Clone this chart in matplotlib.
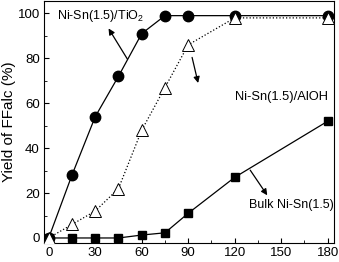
import matplotlib
matplotlib.use("Agg")
import matplotlib.pyplot as plt

plt.rcParams['font.family'] = ['Liberation Sans', 'DejaVu Sans']
plt.rcParams['mathtext.fontset'] = 'custom'
plt.rcParams['mathtext.rm'] = 'Liberation Sans'

# reaction time (min)
time_min = [0, 15, 30, 45, 60, 75, 90, 120, 180]
# yield of FFalc (%)
yield_tio2 = [0, 28, 54, 72, 91, 99, 99, 99, 99]
yield_aloh = [0, 6, 12, 22, 48, 67, 86, 98, 98]
yield_bulk = [0, 0, 0, 0, 1.3, 2.3, 11, 27, 52]

x_ticks = [0, 30, 60, 90, 120, 150, 180]
y_ticks = [0, 20, 40, 60, 80, 100]

fig = plt.figure(figsize=(3.39, 2.62), dpi=100)
ax = fig.add_axes([0.130, 0.072, 0.855, 0.924])

ax.plot(time_min, yield_bulk, '-', color='black', lw=0.9,
        marker='s', ms=6.3, mfc='black', mec='black', zorder=3)
ax.plot(time_min, yield_tio2, '-', color='black', lw=0.9,
        marker='o', ms=7.5, mfc='black', mec='black', zorder=4)
ax.plot(time_min, yield_aloh, ':', color='black', lw=0.9,
        marker='^', ms=8, mfc='white', mec='black', mew=0.7, zorder=5)

ax.set_xlim(-3, 184)
ax.set_ylim(-2.3, 105.5)
ax.set_xticks(x_ticks)
ax.set_yticks(y_ticks)
ax.set_xticks(range(15, 180, 30), minor=True)
ax.set_yticks(range(10, 100, 20), minor=True)
ax.tick_params(which='both', direction='in', labelsize=9.5, pad=3)
ax.tick_params(which='major', length=3.5)
ax.tick_params(which='minor', length=2)
ax.set_ylabel('Yield of FFalc (%)', fontsize=11, labelpad=1)

arrow = dict(arrowstyle='-|>', color='black', lw=0.9, mutation_scale=9,
             shrinkA=0, shrinkB=0)
ax.annotate('', xy=(38.6, 93.3), xytext=(50.8, 79.6), arrowprops=arrow)
ax.text(5.5, 99, 'Ni-Sn(1.5)/TiO$_2$', fontsize=9, va='center', ha='left')

ax.annotate('', xy=(96.4, 69), xytext=(92.5, 80.4), arrowprops=arrow)
ax.text(150, 62.7, 'Ni-Sn(1.5)/AlOH', fontsize=9.3, va='center', ha='center')

ax.annotate('', xy=(141, 19), xytext=(130, 30.2), arrowprops=arrow)
ax.text(184, 14.7, 'Bulk Ni-Sn(1.5)', fontsize=9, va='center', ha='right')

fig.savefig('out.png', dpi=100)
